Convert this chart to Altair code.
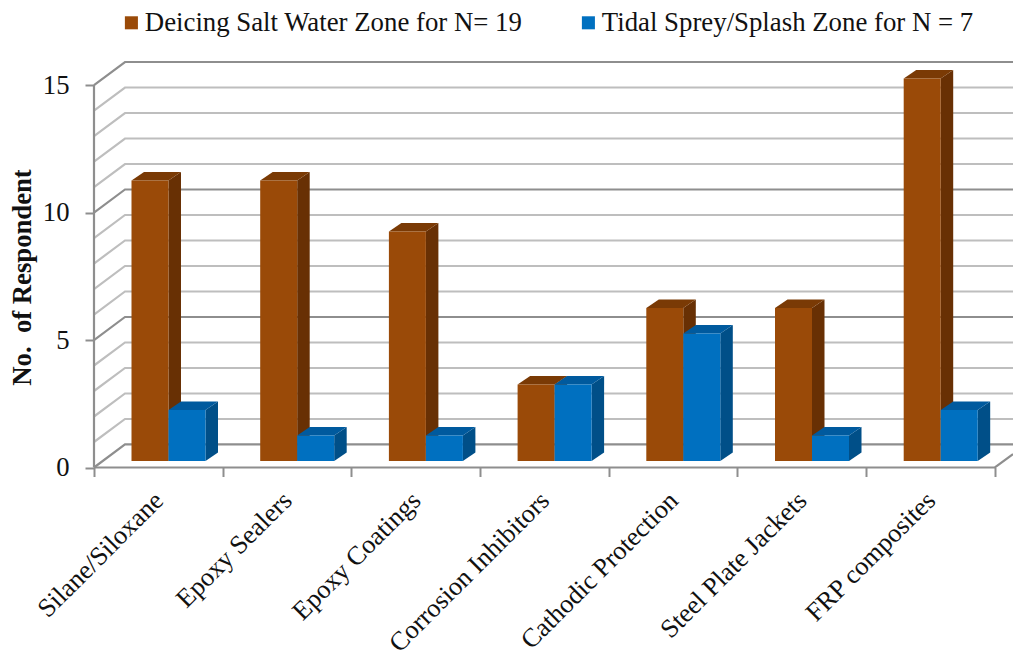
import altair as alt
import pandas as pd

categories = ["Silane/Siloxane", "Epoxy Sealers", "Epoxy Coatings", "Corrosion Inhibitors",
              "Cathodic Protection", "Steel Plate Jackets", "FRP composites"]
deicing = [11, 11, 9, 3, 6, 6, 15]
tidal = [2, 1, 1, 3, 5, 1, 2]
series_names = ["Deicing Salt Water Zone for N= 19", "Tidal Sprey/Splash Zone for N = 7"]
front_colors = ["#9A4A08", "#0070C0"]
side_colors = ["#683004", "#004F88"]
top_colors = ["#7A3A05", "#005A9E"]

FONT = "Liberation Serif"
UNIT_X, UNIT_Y = 128.7, 25.47
PLOT_W, PLOT_H = 919, 405.5
X_MAX = PLOT_W / UNIT_X
WALL_DX, WALL_DY = 31 / UNIT_X, 23 / UNIT_Y
Y_MAX = 15 + WALL_DY
BASE = 6.5 / UNIT_Y
BAR_W = 37 / UNIT_X
BAR_START = 37.5 / UNIT_X
DEPTH_X, DEPTH_Y = 12.5 / UNIT_X, 8.5 / UNIT_Y
DARK, LIGHT, AXIS = "#8E8E8E", "#BEBEBE", "#8E8E8E"

x_scale = alt.Scale(domain=[0, X_MAX], nice=False, zero=False)
y_scale = alt.Scale(domain=[0, Y_MAX], nice=False, zero=False)
x_axis = alt.Axis(values=list(range(8)), labels=False, title=None, domain=False, grid=False,
                  tickColor=AXIS, tickWidth=2, tickSize=9)
y_axis = alt.Axis(values=[0, 5, 10, 15], title="No.\u00a0 of Respondent", domain=False, grid=False,
                  tickColor=AXIS, tickWidth=2, tickSize=9, labelFont=FONT, labelFontSize=26.7,
                  labelColor="#111111", labelPadding=16,
                  titleFont=FONT, titleFontSize=26.7, titleFontWeight="bold", titleColor="#111111",
                  titleX=-72, titleY=215, titleAngle=270, titleAlign="center", titleBaseline="middle")

# frame lines
grid = []
def seg(i, c, pts):
    for (a, b) in pts:
        grid.append({"id": i, "c": c, "x": a, "y": b})
for lv in range(16):
    c = DARK if lv % 5 == 0 else LIGHT
    seg(f"w{lv}", c, [(0, lv), (WALL_DX, lv + WALL_DY), (X_MAX, lv + WALL_DY)])
frac = (X_MAX - 7) / WALL_DX
seg("floor", AXIS, [(0, 0), (7, 0), (X_MAX, frac * WALL_DY)])
seg("left", AXIS, [(0, 0), (0, 15)])
grid_df = pd.DataFrame(grid)

grid_layer = alt.Chart(grid_df).mark_line(strokeWidth=2.2).encode(
    x=alt.X("x:Q", scale=x_scale, axis=x_axis),
    y=alt.Y("y:Q", scale=y_scale, axis=y_axis),
    color=alt.Color("c:N", scale=None),
    detail="id:N",
)

rows_front, rows_faces = [], []
for s, vals in enumerate([deicing, tidal]):
    for i, v in enumerate(vals):
        x0 = i + BAR_START + s * BAR_W
        x1 = x0 + BAR_W
        rows_front.append({"s": series_names[s], "sn": s, "x0": x0, "x1": x1, "y0": BASE, "y1": BASE + v})
        b, t = BASE, BASE + v
        for (a, hi, lo) in [(x1, t, b), (x1 + DEPTH_X, t + DEPTH_Y, b + DEPTH_Y)]:
            rows_faces.append({"id": f"s{s}{i}", "sn": s, "c": side_colors[s], "x": a, "hi": hi, "lo": lo})
        for (a, hi, lo) in [(x0, t, t), (x0 + DEPTH_X, t + DEPTH_Y, t), (x1, t + DEPTH_Y, t),
                            (x1 + DEPTH_X, t + DEPTH_Y, t + DEPTH_Y)]:
            rows_faces.append({"id": f"t{s}{i}", "sn": s, "c": top_colors[s], "x": a, "hi": hi, "lo": lo})
front_df = pd.DataFrame(rows_front)
faces_df = pd.DataFrame(rows_faces)

def faces(sn):
    return alt.Chart(faces_df[faces_df.sn == sn]).mark_area(interpolate="linear").encode(
        x=alt.X("x:Q", scale=x_scale, axis=x_axis),
        y=alt.Y("hi:Q", scale=y_scale, axis=y_axis),
        y2="lo:Q",
        color=alt.Color("c:N", scale=None),
        detail="id:N",
    )

def fronts(sn):
    return alt.Chart(front_df[front_df.sn == sn]).mark_rect().encode(
        x=alt.X("x0:Q", scale=x_scale, axis=x_axis),
        x2="x1:Q",
        y=alt.Y("y1:Q", scale=y_scale, axis=y_axis),
        y2="y0:Q",
        fill=alt.Fill("s:N", scale=alt.Scale(domain=series_names, range=front_colors),
                      legend=alt.Legend(
                          title=None, orient="none", legendX=24, legendY=-53, direction="horizontal",
                          columns=2, symbolType="square", symbolSize=170, symbolStrokeWidth=0,
                          labelFont=FONT, labelFontSize=26.8, labelColor="#111111",
                          columnPadding=52, labelOffset=0, labelLimit=600)),
    )

labels_df = pd.DataFrame({"x": [i + 0.5 for i in range(7)], "y": [0] * 7, "n": categories})
label_layer = alt.Chart(labels_df).mark_text(
    angle=315, align="right", baseline="middle", font=FONT, fontSize=26.3, color="#111111", dx=-20, dy=21
).encode(
    x=alt.X("x:Q", scale=x_scale, axis=x_axis),
    y=alt.Y("y:Q", scale=y_scale, axis=y_axis),
    text="n:N",
)

chart = alt.layer(grid_layer, faces(0), fronts(0), faces(1), fronts(1), label_layer).properties(
    width=PLOT_W, height=PLOT_H,
    autosize=alt.AutoSizeParams(type="none"),
    padding={"left": 86, "top": 54, "right": 0, "bottom": 186},
).configure_view(stroke=None)

chart.save("out.html", embed_options={"renderer": "svg", "actions": False})
